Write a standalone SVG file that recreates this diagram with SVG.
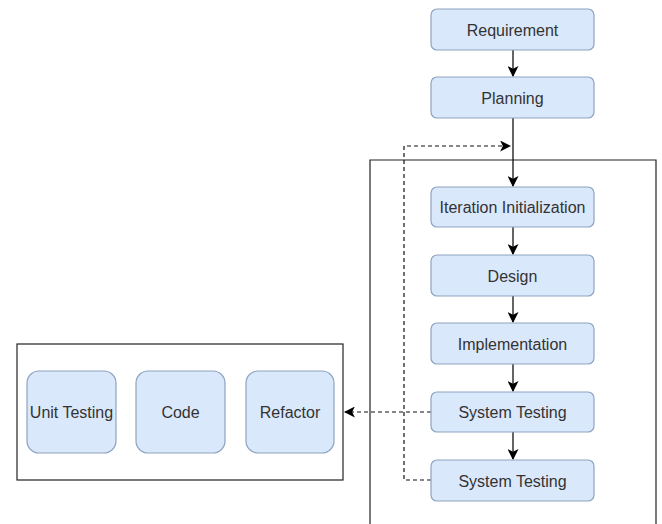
<svg xmlns="http://www.w3.org/2000/svg" width="662" height="524" viewBox="0 0 662 524">
  <defs>
    <marker id="arrow" viewBox="0 0 10 10" refX="9" refY="5" markerWidth="11" markerHeight="11" markerUnits="userSpaceOnUse" orient="auto">
      <path d="M0,0 L10,5 L0,10 L2.5,5 Z" fill="#000"/>
    </marker>
  </defs>
  <style>
    .step { fill: #dae8fc; stroke: #8ea3c0; stroke-width: 1.2; }
    .frame { fill: none; stroke: #222; stroke-width: 1.2; }
    .label { font-family: "Liberation Sans", Arial, sans-serif; font-size: 16px; fill: #333; text-anchor: middle; dominant-baseline: central; }
    .flow { fill: none; stroke: #111; stroke-width: 1.3; marker-end: url(#arrow); }
    .dash { fill: none; stroke: #111; stroke-width: 1.2; stroke-dasharray: 4 3; }
  </style>
  <rect width="662" height="524" fill="#fff"/>

  <!-- frames -->
  <path class="frame" d="M370,524 V160 H656 V524"/>
  <rect class="frame" x="17" y="344" width="326" height="136"/>

  <!-- connectors -->
  <g id="connectors">
    <line class="flow" x1="513" y1="50" x2="513" y2="76"/>
    <line class="flow" x1="513" y1="118" x2="513" y2="186"/>
    <line class="flow" x1="513" y1="227" x2="513" y2="254"/>
    <line class="flow" x1="513" y1="296" x2="513" y2="322"/>
    <line class="flow" x1="513" y1="364" x2="513" y2="391"/>
    <line class="flow" x1="513" y1="432" x2="513" y2="459"/>
    <path class="dash" d="M431,480 H404 V146 H510" marker-end="url(#arrow)"/>
    <path class="dash" d="M431,412 H345" marker-end="url(#arrow)"/>
  </g>

  <g id="requirement">
    <rect class="step" x="431" y="9" width="163" height="41" rx="6"/>
    <text class="label" x="512.5" y="30">Requirement</text>
  </g>
  <g id="planning">
    <rect class="step" x="431" y="77" width="163" height="41" rx="6"/>
    <text class="label" x="512.5" y="98">Planning</text>
  </g>
  <g id="iteration-init">
    <rect class="step" x="431" y="187" width="163" height="40" rx="6"/>
    <text class="label" x="512.5" y="207">Iteration Initialization</text>
  </g>
  <g id="design">
    <rect class="step" x="431" y="255" width="163" height="41" rx="6"/>
    <text class="label" x="512.5" y="276">Design</text>
  </g>
  <g id="implementation">
    <rect class="step" x="431" y="323" width="163" height="41" rx="6"/>
    <text class="label" x="512.5" y="344">Implementation</text>
  </g>
  <g id="system-testing-1">
    <rect class="step" x="431" y="392" width="163" height="40" rx="6"/>
    <text class="label" x="512.5" y="412">System Testing</text>
  </g>
  <g id="system-testing-2">
    <rect class="step" x="431" y="460" width="163" height="41" rx="6"/>
    <text class="label" x="512.5" y="481">System Testing</text>
  </g>

  <g id="unit-testing">
    <rect class="step" x="27" y="371" width="89" height="82" rx="12"/>
    <text class="label" x="71.5" y="412">Unit Testing</text>
  </g>
  <g id="code">
    <rect class="step" x="136" y="371" width="89" height="82" rx="12"/>
    <text class="label" x="180.5" y="412">Code</text>
  </g>
  <g id="refactor">
    <rect class="step" x="246" y="371" width="88" height="82" rx="12"/>
    <text class="label" x="290" y="412">Refactor</text>
  </g>
</svg>
